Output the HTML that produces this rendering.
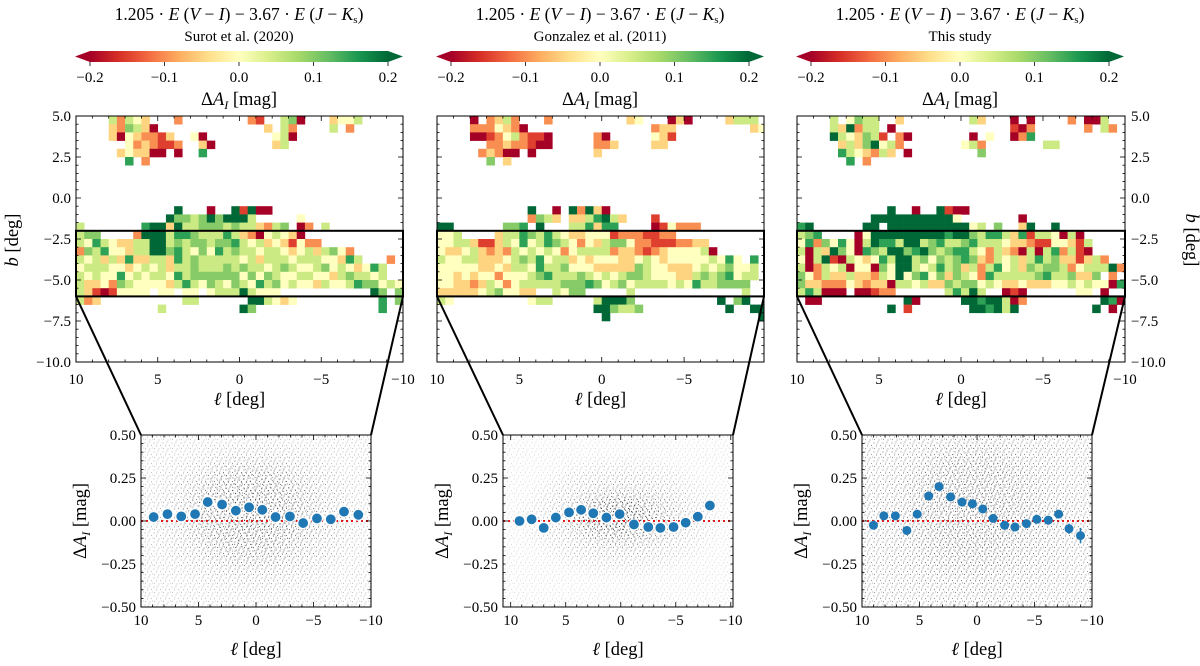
<!DOCTYPE html>
<html><head><meta charset="utf-8">
<style>
html,body{margin:0;padding:0;background:#fff;}
svg{display:block;font-family:"Liberation Serif",serif;}
</style></head>
<body>
<svg id="fig" width="1200" height="666" viewBox="0 0 1200 666" xmlns="http://www.w3.org/2000/svg">
<defs>
<linearGradient id="rdylgn" x1="0" x2="1" y1="0" y2="0">
<stop offset="0" stop-color="#a50026"/><stop offset="0.1" stop-color="#d73027"/><stop offset="0.2" stop-color="#f46d43"/><stop offset="0.3" stop-color="#fdae61"/><stop offset="0.4" stop-color="#fee08b"/><stop offset="0.5" stop-color="#ffffbf"/><stop offset="0.6" stop-color="#d9ef8b"/><stop offset="0.7" stop-color="#a6d96a"/><stop offset="0.8" stop-color="#66bd63"/><stop offset="0.9" stop-color="#1a9850"/><stop offset="1" stop-color="#006837"/>
</linearGradient>
<radialGradient id="softfade" cx="0.5" cy="0.5" r="0.5">
<stop offset="0" stop-color="#fff"/><stop offset="0.55" stop-color="#bbb"/><stop offset="1" stop-color="#000"/>
</radialGradient>
<pattern id="dots" width="9" height="9" patternUnits="userSpaceOnUse">
<circle cx="1" cy="2" r="0.6" fill="#222"/><circle cx="5" cy="1" r="0.6" fill="#222"/><circle cx="3.5" cy="5" r="0.6" fill="#222"/><circle cx="7.5" cy="4.5" r="0.6" fill="#222"/><circle cx="1.5" cy="7.5" r="0.6" fill="#222"/><circle cx="6" cy="8" r="0.6" fill="#222"/><circle cx="8.5" cy="7" r="0.5" fill="#222"/><circle cx="4" cy="3" r="0.5" fill="#222"/>
</pattern>
<pattern id="dots2" width="7" height="7" patternUnits="userSpaceOnUse" patternTransform="rotate(17)">
<circle cx="2" cy="2" r="0.6" fill="#222"/><circle cx="5.5" cy="4" r="0.6" fill="#222"/><circle cx="1" cy="6" r="0.6" fill="#222"/>
</pattern>
</defs>
</svg>
<script>
// ---------- DATA ----------
const levelChars = "RroywlgGD";
const levelValues = [-0.2,-0.15,-0.1,-0.05,0,0.05,0.1,0.15,0.2];
const mapTitles = ["Surot et al. (2020)","Gonzalez et al. (2011)","This study"];
const cbTicks = [-0.2,-0.1,0,0.1,0.2];
const cbTickLabels = ["\u22120.2","\u22120.1","0.0","0.1","0.2"];
const mapYTicks = [5,2.5,0,-2.5,-5,-7.5,-10];
const mapYTickLabels = ["5.0","2.5","0.0","\u22122.5","\u22125.0","\u22127.5","\u221210.0"];
const lTicks = [10,5,0,-5,-10];
const lTickLabels = ["10","5","0","\u22125","\u221210"];
const dTicks = [0.5,0.25,0,-0.25,-0.5];
const dTickLabels = ["0.50","0.25","0.00","\u22120.25","\u22120.50"];

const mapGrid1 = [
"....lolwy...o........or..lgR...ywwl",
"....yoglyR.............y.lo....l.o",
"....yRwyoory..wR........wlR",
"......woyorro..yR.......yl",
".....ywyyRR.R..G",
"......G.o",
"","","","","",
"............D...R..DrDRR",
"...........DgglgDgDDDl.....w",
"l.......GDDyDllggglgllyolg.Ro.l",
"lgg....oDDDlGGglllGlyoRwlwyR",
"lwGlwyyllDDlglgglggGlwlywyrwoo",
"oglGwwyllDDgGlwgwGlgllwllwywlylgwo",
"lwlylyGyyllyGlglllllwlylllwlllwwyGl...o",
"wlllwwywlwlyllglllglgllwlglwwlgwlwywGl",
"lwlwwGwlwllwGlggggggwgwglwwllwwylgllwl",
"lyywoglwwwwylGlwglwglwGlgwlwwylwwlGggwlw",
"lyrRrwwww.ww.ww.wlllDlwww...........Dg.g",
"loy..........ll......DDlwyw..........G.gl",
"..........l.........Dg...............G..",
""
];
const mapGrid2 = [
"....R.oylo...o.........yw...RyR....ylll",
"....ooowyoR...............oyy.........yw",
"....RRrowlorrR.....oR.....wyr",
"......ooyoorRR.....ooy....yy",
".....oyoRR.R.......y",
"......g.y",
"","","","","",
"...........D..R.DoDyR",
"...........ogly.yylGDly...r",
"DD......ggG.D...llGyGG....Rrwooo",
"wwl....yllGglGlwyywwwrooorroo",
"wwllyrrylwGwlGglwowylggwoorrrooyy",
"wyywlyoyolwlwlwowlllloyyoroywwwwlR",
"lwwllyyywlglGwllywywwwyywlwywwwwwlwGw.G",
"wwwwwyywyllwGllgwwwyyyyyglwwyyywlwlgwwl",
"wwywywwowwwlgGlllglwlwlgglwwwyylglgGwll",
"wwyyoylwowlllllgggGgwlgwllllwlwGllgggg",
"yyyyywlgwwyy..lwgg.....l.............l",
"lw.........wll.....lDDDg..........D.gD",
"...................DDgllg..........D..DD",
"....................D..................D"
];
const mapGrid3 = [
"....l.wgll..y........ly...R.R....o.RRl",
"....lyDoll.R..............rRo......o.lo",
"....Dlwyglr.oR.......R.w..RoG",
".....ylygDwlo.......wlo.......ll",
".....Glwyoly.R........g",
"......G.o",
"","","","","",
"...........D..R..DrRR",
".........DDDDDDDDDDw.......R",
"GD......DD.DDDDDDDDDDwl.g..yD..D",
"lgG....RwDDDDDDDDDGDDglGGlyGrllwRlR",
"wGogwGwRlDGGlDDlgGllgGlllwyyorrwwyrl",
"lRlyDgwRGglDDgGDglgGGlwolyoRlRlGolrR",
"wRlDrRlwywGlDDlgwglgGgyolwlylGlgyyrylo",
"lRolwlRwwRgwDDlwlGlgylolGwlyglgglowlllDo",
"gwolyylyyolwDwgGwgyglwoGlllllgGllgyyg.o",
"gyyooowyoyyRllwlyyglggwlwyywyyywwlwlwwRG",
"lGlRRR.RRroo......lGlDl..RrR......ww.R.",
".RR..........DR.....DDGDDlRo.........DGR",
"...........D.r.......DDGDlD.........D.R",
""
];

const binL1 = [8.9,7.7,6.5,5.3,4.2,2.95,1.75,0.6,-0.55,-1.7,-2.95,-4.1,-5.3,-6.5,-7.65,-8.9];
const binV1 = [0.023,0.04,0.027,0.04,0.11,0.096,0.06,0.08,0.065,0.023,0.027,-0.012,0.015,0.01,0.054,0.036];
const binL2 = [9.2,8.1,7.0,5.9,4.7,3.6,2.5,1.3,0.1,-1.2,-2.5,-3.6,-4.8,-5.9,-7.0,-8.1];
const binV2 = [0.0,0.01,-0.04,0.02,0.05,0.065,0.045,0.02,0.04,-0.02,-0.035,-0.04,-0.035,-0.01,0.025,0.09];
const binL3 = [9.0,8.1,7.1,6.1,5.2,4.2,3.3,2.3,1.3,0.4,-0.5,-1.4,-2.4,-3.3,-4.3,-5.2,-6.2,-7.1,-8.0,-9.0];
const binV3 = [-0.025,0.03,0.03,-0.055,0.04,0.145,0.2,0.14,0.11,0.1,0.07,0.015,-0.025,-0.035,-0.015,0.01,0.005,0.04,-0.045,-0.085];
const binE3 = [0.012,0.015,0.013,0.015,0.013,0.015,0.01,0.01,0.01,0.01,0.01,0.01,0.01,0.01,0.012,0.012,0.013,0.02,0.03,0.045];

// ---------- LAYOUT ----------
const NS="http://www.w3.org/2000/svg";
const svg=document.getElementById('fig');
const defs=svg.querySelector('defs');
function mk(tag,attrs,parent){const e=document.createElementNS(NS,tag);for(const k in attrs)e.setAttribute(k,attrs[k]);(parent||svg).appendChild(e);return e;}
const stopCols=["#a50026","#d73027","#f46d43","#fdae61","#fee08b","#ffffbf","#d9ef8b","#a6d96a","#66bd63","#1a9850","#006837"];
function hex(c){return [parseInt(c.slice(1,3),16),parseInt(c.slice(3,5),16),parseInt(c.slice(5,7),16)];}
function cmap(v){let t=(v+0.2)/0.4;t=Math.max(0,Math.min(1,t))*10;const i=Math.min(9,Math.floor(t));const f=t-i;const a=hex(stopCols[i]),b=hex(stopCols[i+1]);return "rgb("+a.map((x,j)=>Math.round(x+(b[j]-x)*f)).join(",")+")";}

const panels=[
 {dx:0, mapX0:76, mapX1:403, lmax:10, lmin:-10, sx0:141, sx1:371, slmax:10, slmin:-10, grid:mapGrid1, bl:binL1, bv:binV1, be:null, yLabels:"left"},
 {dx:361, mapX0:437, mapX1:764, lmax:10, lmin:-9.85, sx0:503, sx1:733, slmax:10.7, slmin:-10.2, grid:mapGrid2, bl:binL2, bv:binV2, be:null, yLabels:"none"},
 {dx:721, mapX0:797, mapX1:1125, lmax:10, lmin:-10, sx0:862, sx1:1092, slmax:10, slmin:-10, grid:mapGrid3, bl:binL3, bv:binV3, be:binE3, yLabels:"right"}
];
const mapY0=116, mapY1=362;
const sY0=435, sY1=607;

panels.forEach((p,k)=>{
 const g=mk('g',{});
 
 
 const cbx0=90+p.dx, cbx1=388+p.dx, cby0=51, cby1=62;
 const cx=(cbx0+cbx1)/2;
 const t1=mk('text',{x:cx,y:20,'text-anchor':'middle','font-size':'17.5'},g);
 
 
 t1.innerHTML='1.205 · <tspan font-style="italic">E</tspan> (<tspan font-style="italic">V</tspan> − <tspan font-style="italic">I</tspan>) − 3.67 · <tspan font-style="italic">E</tspan> (<tspan font-style="italic">J</tspan> − <tspan font-style="italic">K</tspan><tspan font-size="11" dy="3">s</tspan><tspan dy="-3">)</tspan>';
 const t2=mk('text',{x:cx,y:41,'text-anchor':'middle','font-size':'15'},g);
 
 
 t2.textContent=mapTitles[k];
 const cb=mk('rect',{x:cbx0,y:cby0,width:cbx1-cbx0,height:cby1-cby0,fill:'url(#rdylgn)'},g);
 
 
 const al=mk('polygon',{points:`${cbx0},${cby0} ${cbx0},${cby1} ${75+p.dx},${(cby0+cby1)/2}`,fill:'#a50026'},g);
 
 
 const ar=mk('polygon',{points:`${cbx1},${cby0} ${cbx1},${cby1} ${403+p.dx},${(cby0+cby1)/2}`,fill:'#006837'},g);
 
 
 cbTicks.forEach((v,i)=>{const x=cbx0+(v+0.2)/0.4*(cbx1-cbx0);
  mk('line',{x1:x,x2:x,y1:cby1,y2:cby1+4,stroke:'#000','stroke-width':0.8},g);
  const tl=mk('text',{x:x,y:82,'text-anchor':'middle','font-size':'15'},g);
  
  
  tl.textContent=cbTickLabels[i];});
 const cl=mk('text',{x:cx,y:105,'text-anchor':'middle','font-size':'18.5'},g);
 
 
 cl.innerHTML='Δ<tspan font-style="italic">A</tspan><tspan font-style="italic" font-size="12" dy="4">I</tspan><tspan dy="-4"> [mag]</tspan>';
 // ---- map ----
 const mxs=l=>p.mapX0+(p.lmax-l)/(p.lmax-p.lmin)*(p.mapX1-p.mapX0);
 const mys=b=>mapY0+(5-b)/15*(mapY1-mapY0);
 const cid='clipmap'+k;
 const cp=mk('clipPath',{id:cid},defs);mk('rect',{x:p.mapX0,y:mapY0,width:p.mapX1-p.mapX0,height:mapY1-mapY0},cp);
 const cells=mk('g',{'clip-path':`url(#${cid})`},g);
 
 
 p.grid.forEach((row,r)=>{for(let c=0;c<row.length;c++){const ch=row[c];const idx=levelChars.indexOf(ch);if(idx<0)continue;
  const l0=10-0.5*c,b0=5-0.5*r;const x=mxs(l0),x2=mxs(l0-0.5),y=mys(b0),y2=mys(b0-0.5);
  const rc=mk('rect',{x:x,y:y,width:x2-x+0.3,height:y2-y+0.3,fill:cmap(levelValues[idx])},cells);
  
  }});
 const fr=mk('rect',{x:p.mapX0,y:mapY0,width:p.mapX1-p.mapX0,height:mapY1-mapY0,fill:'none',stroke:'#000','stroke-width':1},g);
 
 
 for(let l=10;l>=-10;l-=1){const x=mxs(l);if(x<p.mapX0-0.1||x>p.mapX1+0.1)continue;const L=(l%5===0)?5:2.5;
  mk('line',{x1:x,x2:x,y1:mapY1,y2:mapY1-L,stroke:'#000','stroke-width':0.8},g);mk('line',{x1:x,x2:x,y1:mapY0,y2:mapY0+L,stroke:'#000','stroke-width':0.8},g);}
 for(let b=5;b>=-10;b-=0.5){const y=mys(b);const L=(b%2.5===0)?5:2.5;
  mk('line',{x1:p.mapX0,x2:p.mapX0+L,y1:y,y2:y,stroke:'#000','stroke-width':0.8},g);mk('line',{x1:p.mapX1,x2:p.mapX1-L,y1:y,y2:y,stroke:'#000','stroke-width':0.8},g);}
 lTicks.forEach((l,i)=>{const x=mxs(l);if(x>p.mapX1+2)return;const tl=mk('text',{x:x,y:384,'text-anchor':'middle','font-size':'15'},g);
  
  
  tl.textContent=lTickLabels[i];});
 if(p.yLabels!=='none'){mapYTicks.forEach((b,i)=>{const y=mys(b);const left=p.yLabels==='left';
  const tl=mk('text',{x:left?p.mapX0-5:p.mapX1+6,y:y+5,'text-anchor':left?'end':'start','font-size':'15'},g);
  
  
  tl.textContent=mapYTickLabels[i];});
  const yx=p.yLabels==='left'?18:1186;const yl=mk('text',{x:yx,y:240,'text-anchor':'middle','font-size':'18.5',transform:`rotate(${p.yLabels==='left'?-90:90} ${yx} 240)`},g);
  
  
  yl.innerHTML='<tspan font-style="italic">b</tspan> [deg]';}
 const xl=mk('text',{x:(p.mapX0+p.mapX1)/2,y:405,'text-anchor':'middle','font-size':'18.5'},g);
 
 
 xl.innerHTML='<tspan font-style="italic">ℓ</tspan> [deg]';
 const bx=mk('rect',{x:p.mapX0,y:mys(-2),width:p.mapX1-p.mapX0,height:mys(-6)-mys(-2),fill:'none',stroke:'#000','stroke-width':2},g);
 
 
 const c1=mk('line',{x1:p.mapX0,y1:mys(-6),x2:p.sx0,y2:sY0,stroke:'#000','stroke-width':2},g);
 
 
 const c2=mk('line',{x1:p.mapX1,y1:mys(-6),x2:p.sx1,y2:sY0,stroke:'#000','stroke-width':2},g);
 
 
 // ---- scatter panel ----
 const sxs=l=>p.sx0+(p.slmax-l)/(p.slmax-p.slmin)*(p.sx1-p.sx0);
 const sys=v=>sY0+(0.5-v)/1*(sY1-sY0);
 const W=p.sx1-p.sx0,H=sY1-sY0;
 mk('rect',{x:p.sx0,y:sY0,width:W,height:H,fill:'#fff'},g);
 const scid='clipsc'+k;const scp=mk('clipPath',{id:scid},defs);mk('rect',{x:p.sx0,y:sY0,width:W,height:H},scp);
 const cloud=mk('g',{'clip-path':`url(#${scid})`},g);
 
 
 // layers: [base opacity, then soft-edged density blobs: l range, v range, opacity, pattern]
 const layers=[
  {base:0.28,blobs:[[9.5,-9.5,-0.45,0.5,0.55,'dots'],[7,-6,-0.3,0.4,0.8,'dots2']]},
  {base:0.16,blobs:[[9.5,-9.5,-0.35,0.4,0.5,'dots'],[6,-6,-0.18,0.22,0.9,'dots2'],[4,-3,-0.1,0.15,0.7,'dots']]},
  {base:0.45,blobs:[[10,-10,-0.55,0.6,0.4,'dots'],[7,-6,-0.35,0.55,0.55,'dots2']]}][k];
 mk('rect',{x:p.sx0,y:sY0,width:W,height:H,fill:'url(#dots)',opacity:layers.base},cloud);
 layers.blobs.forEach((b,i)=>{
  const mid='mask'+k+'_'+i;const m=mk('mask',{id:mid,maskUnits:'userSpaceOnUse',x:0,y:0,width:1200,height:666},defs);
  const x0=sxs(b[0]),x1=sxs(b[1]),y0=sys(b[3]),y1=sys(b[2]);
  mk('rect',{x:x0,y:y0,width:x1-x0,height:y1-y0,fill:'url(#softfade)'},m);
  mk('rect',{x:x0,y:y0,width:x1-x0,height:y1-y0,fill:`url(#${b[5]})`,opacity:b[4],mask:`url(#${mid})`},cloud);
 });
 const zl=mk('line',{x1:p.sx0,x2:p.sx1,y1:sys(0),y2:sys(0),stroke:'#e31a1c','stroke-width':2,'stroke-dasharray':'2,3'},g);
 
 
 p.bl.forEach((l,i)=>{const x=sxs(l),y=sys(p.bv[i]);
  if(p.be){const e=mk('line',{x1:x,x2:x,y1:sys(p.bv[i]+p.be[i]),y2:sys(p.bv[i]-p.be[i]),stroke:'#1f77b4','stroke-width':1.5},g);
   
   }
  const pt=mk('circle',{cx:x,cy:y,r:p.be?4.5:5.5,fill:'#1f77b4',stroke:p.be?'none':'#fff','stroke-width':1.2},g);
  
  });
 const sf=mk('rect',{x:p.sx0,y:sY0,width:W,height:H,fill:'none',stroke:'#000','stroke-width':1},g);
 
 
 for(let l=10;l>=-10;l-=1){const x=sxs(l);if(x<p.sx0-0.1||x>p.sx1+0.1)continue;const L=(l%5===0)?5:2.5;
  mk('line',{x1:x,x2:x,y1:sY1,y2:sY1-L,stroke:'#000','stroke-width':0.8},g);mk('line',{x1:x,x2:x,y1:sY0,y2:sY0+L,stroke:'#000','stroke-width':0.8},g);}
 for(let v=0.5;v>=-0.5001;v-=0.05){const y=sys(v);const L=(Math.abs((v*100)%25)<0.1)?5:2.5;
  mk('line',{x1:p.sx0,x2:p.sx0+L,y1:y,y2:y,stroke:'#000','stroke-width':0.8},g);mk('line',{x1:p.sx1,x2:p.sx1-L,y1:y,y2:y,stroke:'#000','stroke-width':0.8},g);}
 lTicks.forEach((l,i)=>{const x=sxs(l);if(x>p.sx1+6)return;const tl=mk('text',{x:x,y:625,'text-anchor':'middle','font-size':'15'},g);
  
  
  tl.textContent=lTickLabels[i];});
 dTicks.forEach((v,i)=>{const tl=mk('text',{x:p.sx0-5,y:sys(v)+5,'text-anchor':'end','font-size':'15'},g);
  
  
  tl.textContent=dTickLabels[i];});
 const yx2=p.sx0-55;const syl=mk('text',{x:yx2,y:521,'text-anchor':'middle','font-size':'18.5',transform:`rotate(-90 ${yx2} 521)`},g);
 
 
 syl.innerHTML='Δ<tspan font-style="italic">A</tspan><tspan font-style="italic" font-size="12" dy="4">I</tspan><tspan dy="-4"> [mag]</tspan>';
 const sxl=mk('text',{x:(p.sx0+p.sx1)/2,y:655,'text-anchor':'middle','font-size':'18.5'},g);
 
 
 sxl.innerHTML='<tspan font-style="italic">ℓ</tspan> [deg]';
});
</script>
</body></html>
